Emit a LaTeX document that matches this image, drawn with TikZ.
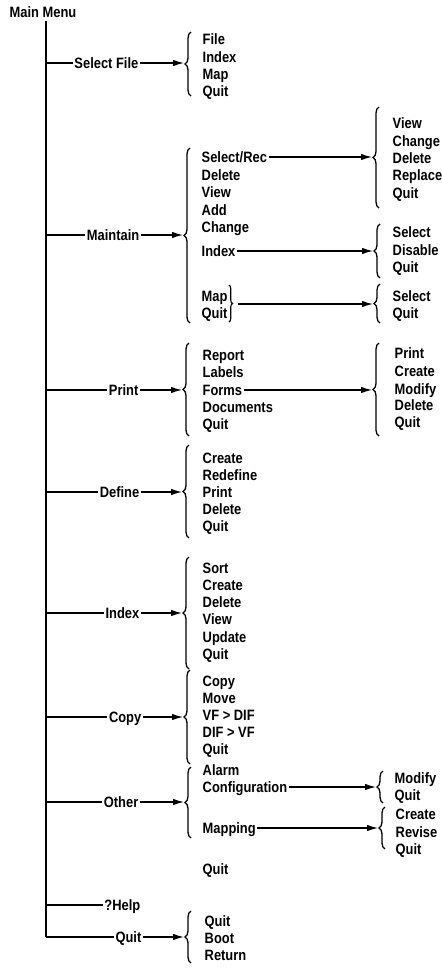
\documentclass[tikz,border=0pt]{standalone}
\usepackage{fontspec}
\setmainfont[FakeStretch=0.86]{Liberation Sans}
\usetikzlibrary{arrows.meta,decorations.pathreplacing}
\begin{document}
\begin{tikzpicture}[x=1pt,y=-1pt,
  lbl/.style={anchor=west,inner xsep=1.5pt,inner ysep=0pt,text height=10.6pt,text depth=0pt,font=\fontsize{15}{15}\selectfont\bfseries},
  brl/.style={lbl,anchor=east},
  trunk/.style={line width=1.8pt},
  ln/.style={line width=1.2pt},
  arr/.style={line width=1.2pt,-{Latex[length=11pt,width=6.5pt]}},
  brc/.style={line width=1.3pt,decorate,decoration={brace,amplitude=6pt}},
  sbrc/.style={line width=1.1pt,decorate,decoration={brace,amplitude=3.5pt}}
]
\useasboundingbox (0,0) rectangle (442,970);

% main menu and trunk
\node[lbl] (mm) at (8,12) {Main Menu};
\coordinate (ttop) at (46,21);
\coordinate (tbot) at (46,937);
\draw[trunk] (ttop) -- (tbot);

% ---------- Select File
\coordinate (t1) at (46,63);
\node[brl] (sf) at (140,63) {Select File};
\coordinate (b1) at (184,63);
\draw[ln] (t1) -- (sf.west);
\draw[arr] (sf.east) -- (b1);
\draw[brc] (191,96) -- (191,32);
\foreach \y/\t [count=\i] in {39/File,57/Index,74/Map,91/Quit}
  \node[lbl] (sf\i) at (201,\y) {\t};

% ---------- Maintain
\coordinate (t2) at (46,235);
\node[brl] (mt) at (141,235) {Maintain};
\coordinate (b2) at (183,235);
\draw[ln] (t2) -- (mt.west);
\draw[arr] (mt.east) -- (b2);
\draw[brc] (190,323) -- (190,148);
\foreach \y/\t [count=\i] in {157/{Select/Rec},175/Delete,192/View,210/Add,227/Change,251/Index,296/Map,313/Quit}
  \node[lbl] (mt\i) at (200,\y) {\t};
% Select/Rec submenu
\coordinate (b21) at (372,157);
\draw[arr] (mt1.east) -- (b21);
\draw[brc] (379,208) -- (379,107);
\foreach \y/\t [count=\i] in {123/View,141/Change,158/Delete,175/Replace,193/Quit}
  \node[lbl] (sr\i) at (391,\y) {\t};
% Index submenu
\coordinate (b22) at (373,251);
\draw[arr] (mt6.east) -- (b22);
\draw[brc] (380,278) -- (380,224);
\foreach \y/\t [count=\i] in {232/Select,250/Disable,267/Quit}
  \node[lbl] (mi\i) at (391,\y) {\t};
% Map/Quit submenu
\draw[sbrc] (229,285) -- (229,322);
\coordinate (mq) at (238,304);
\coordinate (b23) at (373,304);
\draw[arr] (mq) -- (b23);
\draw[brc] (380,323) -- (380,284);
\foreach \y/\t [count=\i] in {296/Select,313/Quit}
  \node[lbl] (mp\i) at (391,\y) {\t};

% ---------- Print
\coordinate (t3) at (46,390);
\node[brl] (pr) at (140,390) {Print};
\coordinate (b3) at (182,390);
\draw[ln] (t3) -- (pr.west);
\draw[arr] (pr.east) -- (b3);
\draw[brc] (189,436) -- (189,343);
\foreach \y/\t [count=\i] in {355/Report,372/Labels,390/Forms,407/Documents,424/Quit}
  \node[lbl] (pr\i) at (201,\y) {\t};
\coordinate (b31) at (372,390);
\draw[arr] (pr3.east) -- (b31);
\draw[brc] (379,436) -- (379,343);
\foreach \y/\t [count=\i] in {353/Print,371/Create,389/Modify,405/Delete,422/Quit}
  \node[lbl] (pf\i) at (393,\y) {\t};

% ---------- Define
\coordinate (t4) at (46,492);
\node[brl] (df) at (141,492) {Define};
\coordinate (b4) at (182,492);
\draw[ln] (t4) -- (df.west);
\draw[arr] (df.east) -- (b4);
\draw[brc] (189,538) -- (189,445);
\foreach \y/\t [count=\i] in {458/Create,475/Redefine,492/Print,509/Delete,526/Quit}
  \node[lbl] (df\i) at (201,\y) {\t};

% ---------- Index
\coordinate (t5) at (46,613);
\node[brl] (ix) at (141,613) {Index};
\coordinate (b5) at (182,613);
\draw[ln] (t5) -- (ix.west);
\draw[arr] (ix.east) -- (b5);
\draw[brc] (189,669) -- (189,557);
\foreach \y/\t [count=\i] in {568/Sort,585/Create,602/Delete,619/View,637/Update,654/Quit}
  \node[lbl] (ix\i) at (201,\y) {\t};

% ---------- Copy
\coordinate (t6) at (46,717);
\node[brl] (cp) at (143,717) {Copy};
\coordinate (b6) at (183,717);
\draw[ln] (t6) -- (cp.west);
\draw[arr] (cp.east) -- (b6);
\draw[brc] (190,764) -- (190,670);
\foreach \y/\t [count=\i] in {681/Copy,698/Move,715/{VF > DIF},732/{DIF > VF},749/Quit}
  \node[lbl] (cp\i) at (201,\y) {\t};

% ---------- Other
\coordinate (t7) at (46,802);
\node[brl] (ot) at (140,802) {Other};
\coordinate (b7) at (184,802);
\draw[ln] (t7) -- (ot.west);
\draw[arr] (ot.east) -- (b7);
\draw[brc] (191,838) -- (191,767);
\foreach \y/\t [count=\i] in {770/Alarm,787/Configuration,828/Mapping,869/Quit}
  \node[lbl] (ot\i) at (201,\y) {\t};
\coordinate (b71) at (376,787);
\draw[arr] (ot2.east) -- (b71);
\draw[brc] (383,803) -- (383,771);
\foreach \y/\t [count=\i] in {778/Modify,795/Quit}
  \node[lbl] (oc\i) at (393,\y) {\t};
\coordinate (b72) at (378,828);
\draw[arr] (ot3.east) -- (b72);
\draw[brc] (385,849) -- (385,807);
\foreach \y/\t [count=\i] in {814/Create,832/Revise,849/Quit}
  \node[lbl] (om\i) at (394,\y) {\t};

% ---------- ?Help
\coordinate (t8) at (46,905);
\node[brl] (hp) at (142,905) {?Help};
\draw[ln] (t8) -- (hp.west);

% ---------- Quit
\node[brl] (qt) at (143,937) {Quit};
\coordinate (b9) at (184,937);
\draw[ln] (tbot) -- (qt.west);
\draw[arr] (qt.east) -- (b9);
\draw[brc] (191,963) -- (191,911);
\foreach \y/\t [count=\i] in {921/Quit,938/Boot,955/Return}
  \node[lbl] (qt\i) at (203,\y) {\t};
\end{tikzpicture}
\end{document}
